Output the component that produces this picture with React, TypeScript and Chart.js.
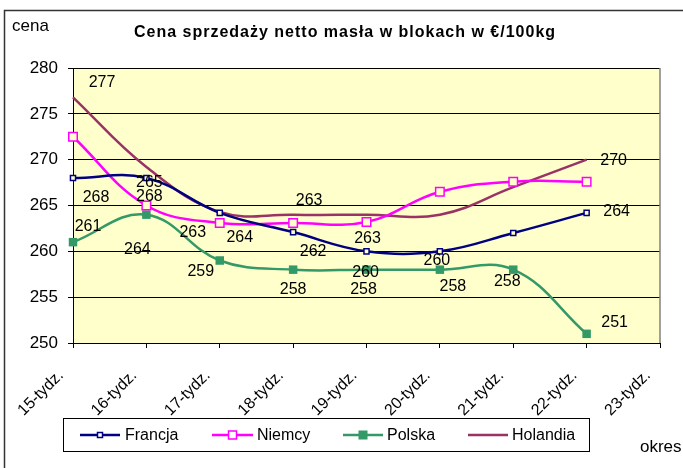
import React, { useEffect, useRef } from 'react';
import { Chart, registerables } from 'chart.js';
Chart.register(...registerables);

const categories = ['15-tydz.', '16-tydz.', '17-tydz.', '18-tydz.', '19-tydz.', '20-tydz.', '21-tydz.', '22-tydz.', '23-tydz.'];
const francja = [268, 268, 264.2, 262.1, 260, 260, 262, 264.2];
const niemcy = [272.5, 265, 263.1, 263.1, 263.2, 266.5, 267.6, 267.6];
const polska = [261, 264, 259, 258, 258, 258, 258, 251];
const holandia = [276.8, 269.2, 264.3, 264, 264, 264, 267, 270];
const seriesNames = ['Francja', 'Niemcy', 'Polska', 'Holandia'];
const titleText = 'Cena sprzedaży netto masła w blokach w €/100kg';
const yAxisName = 'cena';
const xAxisName = 'okres';

// which points show their value, and the label's offset from the point (style only)
const labelOffsets: ([number, number] | null)[][] = [
  [[23, 20], [3, 19], [20, 25], [20, 20], [-1, 21], [-3, 9], null, [30, -1]],
  [null, [3, -23], [-27, 10], [16, -22], [1, 17], null, null, null],
  [[15, -16], [-9, 35], [-19, 11], [0, 20], [-3, 20], [13, 17], [-6, 12], [28, -11]],
  [[29, -15], null, null, null, null, null, null, [27, 1]],
];

const FONT = '"Liberation Sans", Arial, sans-serif';
const colors = ['#000080', '#FF00FF', '#339966', '#993366'];
const legendLayout = [
  { x1: 80, x2: 120, tx: 125 },
  { x1: 212, x2: 253, tx: 257 },
  { x1: 343, x2: 383, tx: 387 },
  { x1: 468, x2: 508, tx: 512 },
];

function drawMarker(ctx: CanvasRenderingContext2D, i: number, x: number, y: number, fill: string) {
  ctx.save();
  ctx.lineWidth = 1.5;
  ctx.strokeStyle = colors[i];
  if (i === 0) {
    ctx.fillStyle = fill;
    ctx.fillRect(x - 2.5, y - 2.5, 5, 5);
    ctx.strokeRect(x - 2.5, y - 2.5, 5, 5);
  } else if (i === 1) {
    ctx.fillStyle = fill;
    ctx.fillRect(x - 4, y - 4, 8, 8);
    ctx.strokeRect(x - 4, y - 4, 8, 8);
  } else if (i === 2) {
    ctx.fillStyle = colors[i];
    ctx.fillRect(x - 4.5, y - 4.5, 9, 9);
  }
  ctx.restore();
}

const decor = {
  id: 'decor',
  beforeDraw(chart: any) {
    const { ctx, chartArea: a } = chart;
    ctx.save();
    ctx.fillStyle = '#fff';
    ctx.fillRect(0, 0, chart.width, chart.height);
    ctx.fillStyle = '#FFFFCC';
    ctx.fillRect(a.left, a.top, a.right - a.left, a.bottom - a.top);
    ctx.strokeStyle = '#333';
    ctx.lineWidth = 1.5;
    ctx.beginPath();
    ctx.moveTo(4.5, chart.height);
    ctx.lineTo(4.5, 10.5);
    ctx.lineTo(chart.width, 10.5);
    ctx.stroke();
    ctx.restore();
  },
  afterDatasetsDraw(chart: any) {
    const { ctx } = chart;
    ctx.save();
    ctx.font = `16px ${FONT}`;
    ctx.fillStyle = '#000';
    ctx.textAlign = 'center';
    ctx.textBaseline = 'middle';
    chart.data.datasets.forEach((ds: any, i: number) => {
      const meta = chart.getDatasetMeta(i);
      meta.data.forEach((pt: any, j: number) => {
        const off = labelOffsets[i][j];
        if (!off || ds.data[j] == null) return;
        ctx.fillText(String(Math.round(ds.data[j])), pt.x + off[0], pt.y + off[1]);
      });
    });
    ctx.restore();
  },
  afterDraw(chart: any) {
    const { ctx, chartArea: a } = chart;
    const xs = chart.scales.x;
    ctx.save();
    // right border of plot
    ctx.strokeStyle = '#808080';
    ctx.lineWidth = 1.5;
    ctx.beginPath();
    ctx.moveTo(a.right, a.top);
    ctx.lineTo(a.right, a.bottom);
    ctx.stroke();
    // title
    ctx.fillStyle = '#000';
    ctx.textBaseline = 'middle';
    ctx.textAlign = 'center';
    ctx.font = `bold 16px ${FONT}`;
    (ctx as any).letterSpacing = '1px';
    ctx.fillText(titleText, 345, 33);
    (ctx as any).letterSpacing = '0px';
    ctx.textAlign = 'left';
    ctx.font = `17px ${FONT}`;
    ctx.fillText(yAxisName, 12, 26);
    ctx.fillText(xAxisName, 640, 447);
    // x tick labels, rotated
    ctx.font = `16px ${FONT}`;
    ctx.textAlign = 'right';
    categories.forEach((c, i) => {
      const px = xs.getPixelForValue(i);
      ctx.save();
      ctx.translate(px - 12, 373);
      ctx.rotate(-Math.PI / 4);
      ctx.fillText(c, 0, 0);
      ctx.restore();
    });
    // legend
    ctx.strokeStyle = '#000';
    ctx.lineWidth = 1;
    ctx.strokeRect(63.5, 418.5, 526, 33);
    ctx.textAlign = 'left';
    ctx.font = `16px ${FONT}`;
    seriesNames.forEach((n, i) => {
      const L = legendLayout[i];
      const y = 435;
      ctx.strokeStyle = colors[i];
      ctx.lineWidth = 2.5;
      ctx.beginPath();
      ctx.moveTo(L.x1, y);
      ctx.lineTo(L.x2, y);
      ctx.stroke();
      drawMarker(ctx, i, (L.x1 + L.x2) / 2, y, '#fff');
      ctx.fillStyle = '#000';
      ctx.fillText(n, L.tx, y + 1);
    });
    ctx.restore();
  },
};

export default function App() {
  const ref = useRef<HTMLCanvasElement>(null);
  useEffect(() => {
    const canvas = ref.current!;
    const mk = (i: number, data: number[]) => ({
      label: seriesNames[i],
      data,
      borderColor: colors[i],
      borderWidth: 2.5,
      tension: 0.4,
      fill: false,
      pointStyle: 'rect',
      pointRadius: i === 0 ? 3.6 : i === 3 ? 0 : 6,
      pointBorderWidth: i === 2 ? 0 : 1.5,
      pointBorderColor: colors[i],
      pointBackgroundColor: i === 2 ? colors[i] : '#FFFFCC',
    });
    const chart = new Chart(canvas, {
      type: 'line',
      data: {
        labels: categories,
        datasets: [mk(0, francja), mk(1, niemcy), mk(2, polska), mk(3, holandia)],
      },
      options: {
        responsive: false,
        animation: false,
        layout: { padding: { left: 0, right: 23, top: 68, bottom: 0 } },
        plugins: { legend: { display: false }, tooltip: { enabled: false }, title: { display: false } },
        scales: {
          x: {
            type: 'category',
            offset: false,
            grid: { display: true, drawOnChartArea: false, drawTicks: true, tickLength: 5, color: '#000' },
            border: { display: true, color: '#000', width: 1 },
            ticks: { display: false },
            afterFit: (s: any) => { s.height = 125; },
          },
          y: {
            min: 250,
            max: 280,
            grid: { color: '#000', lineWidth: 1, tickLength: 5, drawTicks: true },
            border: { display: true, color: '#000', width: 1 },
            ticks: { stepSize: 5, color: '#000', padding: 10, font: { family: FONT, size: 17 } },
            afterFit: (s: any) => { s.width = 73; },
          },
        },
      },
      plugins: [decor],
    } as any);
    return () => chart.destroy();
  }, []);
  return (
    <div style={{ position: 'absolute', left: 0, top: 0, width: 683, height: 468, overflow: 'hidden', background: '#fff' }}>
      <canvas ref={ref} width={683} height={468} style={{ display: 'block' }} />
    </div>
  );
}
